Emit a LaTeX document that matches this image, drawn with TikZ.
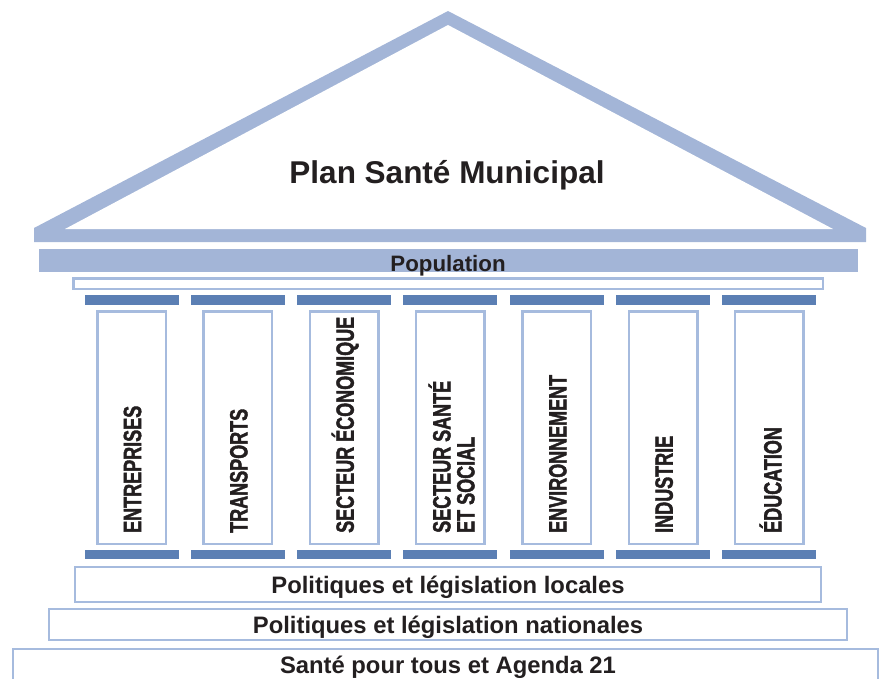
\documentclass[tikz,border=0pt]{standalone}
\usepackage{fontspec}
\setmainfont{Liberation Sans}
% condensed, heavier capitals for the columns
\newfontfamily\pillarfont{Liberation Sans}[FakeStretch=0.72, BoldFeatures={FakeBold=1.6}]

\definecolor{roofblue}{RGB}{163,181,215}
\definecolor{capblue}{RGB}{91,127,180}
\definecolor{edgeblue}{RGB}{166,187,222}
\definecolor{inkgrey}{RGB}{35,31,32}

\tikzset{
    pillar/.style = {draw = edgeblue, line width = 2.5pt, fill = white},
    slab/.style   = {draw = edgeblue, line width = 2.3pt, fill = white},
    capbar/.style = {fill = capblue},
    colname/.style = {rotate = 90, anchor = west, inner sep = 0pt, align = left,
                      font = \pillarfont\fontsize{25}{24}\selectfont\bfseries},
    slabtext/.style = {anchor = base, inner sep = 0pt,
                       font = \fontsize{23.8}{28}\selectfont\bfseries}
}

\begin{document}
\begin{tikzpicture}[
    x = 1pt, y = -1pt,
    text = inkgrey
    ]

    % Determines the boundries
    \path [use as bounding box] (0,0) rectangle (884,678);

    \def\pitch{106.33}
    \def\capw{47}
    \def\shaftw{34.25}

    % Roof
    \fill[roofblue] (34,242) -- (34,228) -- (448,11) -- (866,228) -- (866,242) -- cycle;
    \fill[white] (65,229) -- (448,25) -- (833,229) -- cycle;
    \node (title) at (447,183) [anchor = base, inner sep = 0pt,
        font = \fontsize{31.5}{36}\selectfont\bfseries] {Plan Santé Municipal};

    % Architrave
    \fill[roofblue] (39,249) rectangle (858,272);
    \node (pop) at (448,271) [anchor = base, inner sep = 0pt,
        font = \fontsize{22.3}{26}\selectfont\bfseries] {Population};
    \draw[slab, line width = 2.5pt] (73.25,278.25) rectangle (822.75,288.75);

    % Columns
    \foreach \n/\t in {0/ENTREPRISES, 1/TRANSPORTS, 2/SECTEUR ÉCONOMIQUE,
        3/{SECTEUR SANTÉ\\ET SOCIAL}, 4/ENVIRONNEMENT, 5/INDUSTRIE, 6/ÉDUCATION}{
        \pgfmathsetmacro\cx{131.5+\n*\pitch}
        \fill[capbar] (\cx-\capw,295) rectangle (\cx+\capw,305);
        \fill[capbar] (\cx-\capw,550) rectangle (\cx+\capw,559);
        \draw[pillar] (\cx-\shaftw,311.25) rectangle (\cx+\shaftw,543.75);
        \node (col\n) [colname] at (\cx+1,533) {\t};
    }

    % Steps
    \draw[slab] (75.15,567.15) rectangle (820.85,601.85);
    \node (local) at (448,593) [slabtext] {Politiques et législation locales};

    \draw[slab] (49.15,609.15) rectangle (846.85,639.85);
    \node (national) at (448,633) [slabtext] {Politiques et législation nationales};

    \draw[slab] (13.15,690) |- (877.85,649.15) -- (877.85,690);
    \node (global) at (448,673) [slabtext] {Santé pour tous et Agenda 21};

\end{tikzpicture}
\end{document}
